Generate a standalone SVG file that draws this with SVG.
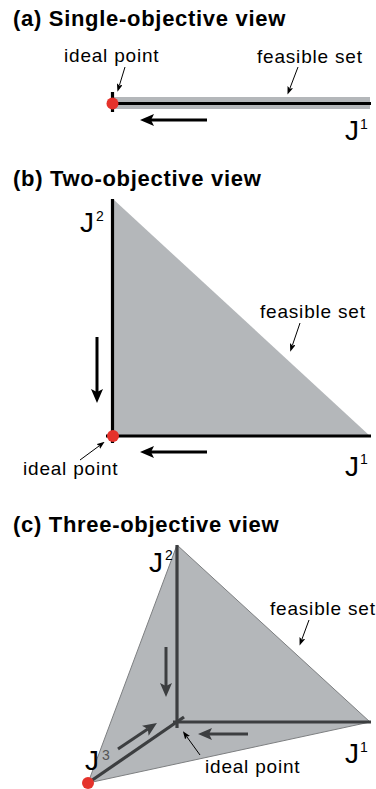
<svg xmlns="http://www.w3.org/2000/svg" width="376" height="789" viewBox="0 0 376 789">
<style>
text{font-family:"Liberation Sans",Arial,Helvetica,sans-serif;fill:#000}
.title{font-size:22px;font-weight:bold;letter-spacing:0.7px}
.lbl{font-size:19px;letter-spacing:0.8px}
.J{font-size:28px}
.sup{font-size:14px}
.fill{fill:#b4b7ba}
.ax{stroke:#000;stroke-width:3.2;fill:none}
.ax3{stroke:#3c3e40;stroke-width:3.2;fill:none}
.big{stroke:#000;stroke-width:3;fill:none;marker-end:url(#bigK)}
.big3{stroke:#3c3e40;stroke-width:3;fill:none;marker-end:url(#bigG)}
.lead{stroke:#000;stroke-width:1;fill:none;marker-end:url(#small)}
.dot{fill:#e5322b}
</style>
<defs>
<marker id="bigK" markerUnits="userSpaceOnUse" markerWidth="15" markerHeight="12" refX="3" refY="6" orient="auto"><path d="M0,0 L14,6 L0,12 L3,6 Z" fill="#000"/></marker>
<marker id="bigG" markerUnits="userSpaceOnUse" markerWidth="15" markerHeight="12" refX="3" refY="6" orient="auto"><path d="M0,0 L14,6 L0,12 L3,6 Z" fill="#3c3e40"/></marker>
<marker id="small" markerUnits="userSpaceOnUse" markerWidth="8" markerHeight="6" refX="1" refY="3" orient="auto"><path d="M0,0 L8,3 L0,6 L1.5,3 Z" fill="#000"/></marker>
</defs>

<g id="panel-a">
<text class="title" x="13" y="26">(a) Single-objective view</text>
<rect class="fill" x="112" y="97" width="258" height="12"/>
<line class="ax" x1="112" y1="103.5" x2="371" y2="103.5"/>
<line class="ax" x1="112.5" y1="92" x2="112.5" y2="112" stroke-width="3"/>
<circle class="dot" cx="112.5" cy="103.5" r="6"/>
<text class="lbl" x="64" y="62">ideal point</text>
<text class="lbl" x="257" y="63">feasible set</text>
<text class="J" x="345" y="140">J</text><text class="sup" x="360" y="128.5">1</text>
</g>

<g id="panel-b">
<text class="title" x="13" y="186">(b) Two-objective view</text>
<polygon class="fill" points="113,199 113,436 370,436"/>
<line class="ax" x1="112.5" y1="199" x2="112.5" y2="443"/>
<line class="ax" x1="106" y1="436" x2="371" y2="436"/>
<circle class="dot" cx="113" cy="436" r="6"/>
<text class="lbl" x="260" y="318">feasible set</text>
<text class="lbl" x="23" y="475">ideal point</text>
<text class="J" x="80" y="232">J</text><text class="sup" x="96" y="221">2</text>
<text class="J" x="345" y="476">J</text><text class="sup" x="360" y="464">1</text>
</g>

<g id="panel-c">
<text class="title" x="13" y="532">(c) Three-objective view</text>
<polygon class="fill" points="177,545 370,722 88,783" stroke="#7d7f81" stroke-width="1"/>
<text class="J" x="85" y="770">J</text><text class="sup" x="102" y="760" fill="#555" style="fill:#555">3</text>
<line class="ax3" x1="177" y1="545" x2="177" y2="728"/>
<line class="ax3" x1="173" y1="722" x2="371" y2="722"/>
<line class="ax3" x1="88" y1="783" x2="184" y2="717"/>
<circle class="dot" cx="88" cy="783" r="6"/>
<text class="lbl" x="270" y="615">feasible set</text>
<text class="lbl" x="205" y="773">ideal point</text>
<text class="J" x="149" y="572">J</text><text class="sup" x="165" y="560">2</text>
<text class="J" x="345" y="763">J</text><text class="sup" x="360" y="752">1</text>
</g>

<g id="connectors">
<line class="big" x1="207" y1="120" x2="151" y2="120"/>
<line class="lead" x1="125" y1="67" x2="119.5" y2="85"/>
<line class="lead" x1="298" y1="67" x2="290" y2="88"/>
<line class="big" x1="97" y1="337" x2="97" y2="392"/>
<line class="big" x1="207" y1="452" x2="151" y2="452"/>
<line class="lead" x1="300" y1="323" x2="292.5" y2="345"/>
<line class="lead" x1="80" y1="460" x2="99" y2="446"/>
<line class="big3" x1="166" y1="647" x2="166" y2="686"/>
<line class="big3" x1="248" y1="734" x2="209" y2="734"/>
<line class="big3" x1="118" y1="749" x2="147.8" y2="729.1"/>
<line class="lead" x1="200" y1="755" x2="187" y2="737"/>
<line class="lead" x1="309" y1="620" x2="302" y2="639"/>
</g>
</svg>
